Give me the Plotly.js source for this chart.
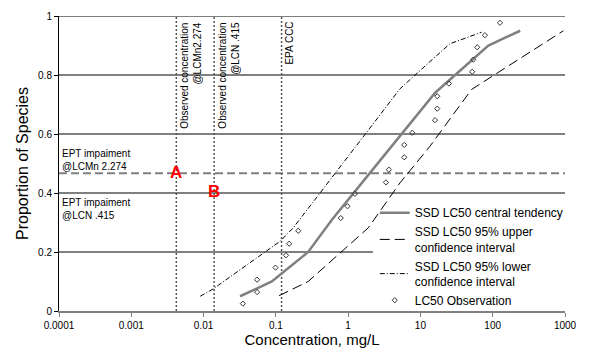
<!DOCTYPE html>
<html>
<head>
<meta charset="utf-8">
<script src="https://cdn.plot.ly/plotly-3.0.1.min.js"></script>
<style>
  body { margin: 0; background: #fff; }
  #ssd { width: 600px; height: 360px; }
</style>
</head>
<body>
<div id="ssd"></div>
<script>

// SSD LC50 fitted curve + confidence limits (conc in mg/L, proportion of species)
var centralConc = [0.032, 0.088, 0.28, 0.6, 1.5, 4.0, 16, 87, 240]
var centralProp = [0.05, 0.10, 0.20, 0.31, 0.43, 0.56, 0.74, 0.90, 0.95]

var upperConc = [0.111, 0.28, 1.9, 5.2, 13.5, 51, 950]
var upperProp = [0.052, 0.10, 0.282, 0.434, 0.558, 0.751, 0.95]

var lowerConc = [0.009, 0.0136, 0.114, 0.174, 2.0, 5.2, 12.8, 25.6, 70]
var lowerProp = [0.05, 0.075, 0.236, 0.282, 0.62, 0.753, 0.84, 0.906, 0.945]

// observed LC50 values
var obsConc = [0.035, 0.055, 0.055, 0.099, 0.138, 0.153, 0.204, 0.79, 0.98, 1.24, 3.33, 3.66,
               5.97, 5.97, 7.7, 15.9, 17.1, 17.1, 24.8, 52, 53.7, 61, 78, 126]
var obsProp = [0.025, 0.064, 0.106, 0.147, 0.189, 0.228, 0.272, 0.315, 0.355, 0.397, 0.436, 0.479,
               0.521, 0.563, 0.604, 0.647, 0.686, 0.728, 0.771, 0.811, 0.852, 0.894, 0.935, 0.977]

// reference concentrations (vertical dotted lines) and their labels
var refConc = [0.0042, 0.014, 0.12]
var refLabels = ["Observed concentration<br>@LCMn2.274", "Observed concentration<br>@LCN .415", "EPA CCC"]
var refMarks = ["A", "B"]
var refMarkProp = [0.471, 0.406]

var eptLevel = 0.467
var gridLevels = [0.2, 0.4, 0.6, 0.8, 1.0]
var gridEnds = [2.2, 1000, 1000, 1000, 1000]

var xTicks = [0.0001, 0.001, 0.01, 0.1, 1, 10, 100, 1000]
var xTickText = ["0.0001", "0.001", "0.01", "0.1", "1", "10", "100", "1000"]
var yTicks = [0, 0.2, 0.4, 0.6, 0.8, 1]
var yTickText = ["0", "0.2", "0.4", "0.6", "0.8", "1"]

var FONT = 'Arial, "Liberation Sans", sans-serif'

let traces = [{
  x: centralConc, y: centralProp,
  name: "SSD LC50 central tendency",
  mode: "lines",
  line: { color: "#808080", width: 2.5 }
}, {
  x: upperConc, y: upperProp,
  name: "SSD LC50 95% upper<br>confidence interval",
  mode: "lines",
  line: { color: "#000", width: 1, dash: "10px,5px" }
}, {
  x: lowerConc, y: lowerProp,
  name: "SSD LC50 95% lower<br>confidence interval",
  mode: "lines",
  line: { color: "#000", width: 1, dash: "5px,2px,1px,2px" }
}, {
  x: obsConc, y: obsProp,
  name: "LC50 Observation",
  mode: "markers",
  marker: { symbol: "diamond-open", size: 4, color: "#333", line: { width: 1 } }
}]

// shapes on a log axis take plain data values here
let shapes = []
gridLevels.forEach((lv, i) => {
  shapes.push({ type: "line", layer: "below", xref: "x", yref: "y",
    x0: xTicks[0], x1: gridEnds[i], y0: lv, y1: lv,
    line: { color: "#000", width: 1 } })
})
shapes.push({ type: "line", layer: "below", xref: "x", yref: "y",
  x0: xTicks[0], x1: 1000, y0: eptLevel, y1: eptLevel,
  line: { color: "#808080", width: 2, dash: "8px,4px" } })
refConc.forEach(c => {
  shapes.push({ type: "line", layer: "below", xref: "x", yref: "y",
    x0: c, x1: c, y0: 0, y1: 1,
    line: { color: "#555", width: 1.5, dash: "2px,2px" } })
})

// annotations on a log axis take log10 values
let annotations = []
refConc.forEach((c, i) => {
  annotations.push({ xref: "x", yref: "y", x: Math.log10(c), y: 1,
    xanchor: "left", yanchor: "top", yshift: -4, xshift: 0,
    textangle: -90, align: "right", showarrow: false,
    text: refLabels[i], font: { family: FONT, size: 10, color: "#000" } })
})
refMarks.forEach((m, i) => {
  annotations.push({ xref: "x", yref: "y", x: Math.log10(refConc[i]), y: refMarkProp[i],
    xanchor: "center", yanchor: "middle", showarrow: false,
    text: "<b>" + m + "</b>", font: { family: FONT, size: 17, color: "#ff0000" } })
})
annotations.push({ xref: "paper", yref: "y", x: 0, y: eptLevel, xanchor: "left", yanchor: "bottom",
  xshift: 1, yshift: -1, showarrow: false, align: "left",
  text: "EPT impaiment<br>@LCMn 2.274", font: { family: FONT, size: 10, color: "#000" } })
annotations.push({ xref: "paper", yref: "y", x: 0, y: 0.4, xanchor: "left", yanchor: "top",
  xshift: 1, yshift: -2, showarrow: false, align: "left",
  text: "EPT impaiment<br>@LCN .415", font: { family: FONT, size: 10, color: "#000" } })

var layout = {
  width: 600, height: 360,
  margin: { l: 59, r: 35, t: 16, b: 49 },
  paper_bgcolor: "#fff", plot_bgcolor: "#fff",
  font: { family: FONT, size: 10, color: "#000" },
  showlegend: true,
  legend: {
    x: 0.624, y: 0.382, xanchor: "left", yanchor: "top",
    bgcolor: "rgba(0,0,0,0)", font: { family: FONT, size: 12 },
    itemwidth: 30
  },
  xaxis: {
    type: "log", range: [-4, 3],
    tickvals: xTicks, ticktext: xTickText,
    ticks: "outside", ticklen: 4, tickcolor: "#808080",
    showline: true, linecolor: "#808080", linewidth: 2,
    showgrid: false, zeroline: false,
    tickfont: { size: 10 },
    title: { text: "Concentration, mg/L", font: { size: 15 }, standoff: 3 }
  },
  yaxis: {
    range: [0, 1],
    tickvals: yTicks, ticktext: yTickText,
    ticks: "outside", ticklen: 4, tickcolor: "#000",
    showline: true, linecolor: "#000", linewidth: 1,
    showgrid: false, zeroline: false,
    tickfont: { size: 10 },
    title: { text: "Proportion of Species", font: { size: 16 }, standoff: 5 }
  },
  shapes: shapes,
  annotations: annotations
}

Plotly.newPlot("ssd", traces, layout, { staticPlot: true })

</script>
</body>
</html>
